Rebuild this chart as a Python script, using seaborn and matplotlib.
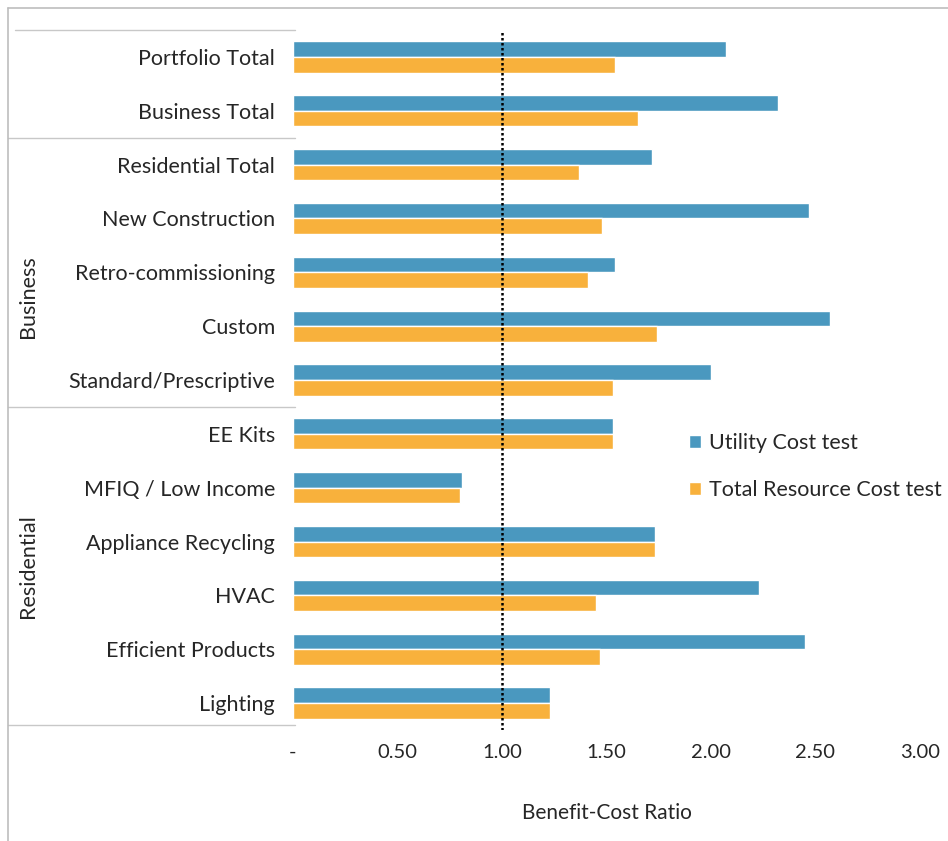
import matplotlib
matplotlib.use("Agg")
import matplotlib.pyplot as plt
from matplotlib.lines import Line2D
from matplotlib.transforms import blended_transform_factory
import seaborn as sns
import pandas as pd

# Programs, top to bottom
categories = [
    "Portfolio Total", "Business Total", "Residential Total", "New Construction",
    "Retro-commissioning", "Custom", "Standard/Prescriptive", "EE Kits",
    "MFIQ / Low Income", "Appliance Recycling", "HVAC", "Efficient Products",
    "Lighting",
]
utility_cost = [2.07, 2.32, 1.72, 2.47, 1.54, 2.57, 2.00, 1.53, 0.81, 1.73, 2.23, 2.45, 1.23]
total_resource_cost = [1.54, 1.65, 1.37, 1.48, 1.41, 1.74, 1.53, 1.53, 0.80, 1.73, 1.45, 1.47, 1.23]
series_names = ["Utility Cost test", "Total Resource Cost test"]

x_ticks = [0, 0.5, 1.0, 1.5, 2.0, 2.5, 3.0]
x_tick_labels = ["-", "0.50", "1.00", "1.50", "2.00", "2.50", "3.00"]

# Outer group captions: (label, first index, last index, label position)
groups = [("Business", 2, 6, 4.45), ("Residential", 7, 12, 9.45)]

df = pd.DataFrame({
    "Program": categories * 2,
    "Ratio": utility_cost + total_resource_cost,
    "Test": [series_names[0]] * len(categories) + [series_names[1]] * len(categories),
})

sns.set_theme(style="white")
plt.rcParams["font.family"] = ["Lato", "DejaVu Sans"]
text_color = "#262626"
label_size = 15.5

fig = plt.figure(figsize=(9.48, 8.41), dpi=100)
ax = fig.add_axes([293 / 948, 1 - 730 / 841, (920 - 293) / 948, 700 / 841])

sns.barplot(
    data=df, y="Program", x="Ratio", hue="Test", orient="h",
    palette=["#4a98bf", "#f8b13c"], width=0.58, gap=0, ax=ax,
    saturation=1, errorbar=None,
)

ax.set_xlim(0, 3.0)
ax.set_ylim(len(categories) - 0.5, -0.5)
ax.set_xticks(x_ticks)
ax.set_xticklabels(x_tick_labels, fontsize=14.5, color=text_color)
ax.tick_params(axis="x", length=0, pad=10)
ax.tick_params(axis="y", length=0, pad=13, labelsize=label_size, labelcolor=text_color)
ax.set_ylabel("")
ax.set_xlabel("Benefit-Cost Ratio", fontsize=15, color=text_color, labelpad=30)
for s in ax.spines.values():
    s.set_visible(False)

# Break-even reference line
ax.axvline(1.0, color="black", linestyle=(0, (1, 1)), lw=1.8, zorder=3)

# Legend
handles, labels = ax.get_legend_handles_labels()
ax.legend(
    handles, labels, loc="upper left", bbox_to_anchor=(689 / 948, 1 - 433 / 841),
    bbox_transform=fig.transFigure, frameon=False, fontsize=label_size,
    handlelength=0.55, handleheight=0.55, handletextpad=0.4, labelspacing=1.25,
    borderpad=0, borderaxespad=0, labelcolor=text_color,
)

# Category group dividers and captions in the label area
trans = blended_transform_factory(fig.transFigure, ax.transData)
line_color = "#c8c8c8"
for yb, x0 in [(-0.5, 15 / 948), (1.5, 8 / 948), (6.5, 8 / 948), (12.4, 8 / 948)]:
    fig.add_artist(Line2D([x0, 295 / 948], [yb, yb], transform=trans,
                          color=line_color, lw=1))
for name, first, last, ypos in groups:
    fig.text(28 / 948, ypos, name, transform=trans, rotation=90,
             ha="center", va="center", fontsize=label_size, color=text_color)

# Chart frame
fig.add_artist(Line2D([8 / 948, 1.0], [1 - 8 / 841, 1 - 8 / 841],
                      transform=fig.transFigure, color="#bdbdbd", lw=1.2))
fig.add_artist(Line2D([8 / 948, 8 / 948], [0.0, 1 - 8 / 841],
                      transform=fig.transFigure, color="#bdbdbd", lw=1.2))

fig.savefig("out.png", dpi=100, facecolor="white")
